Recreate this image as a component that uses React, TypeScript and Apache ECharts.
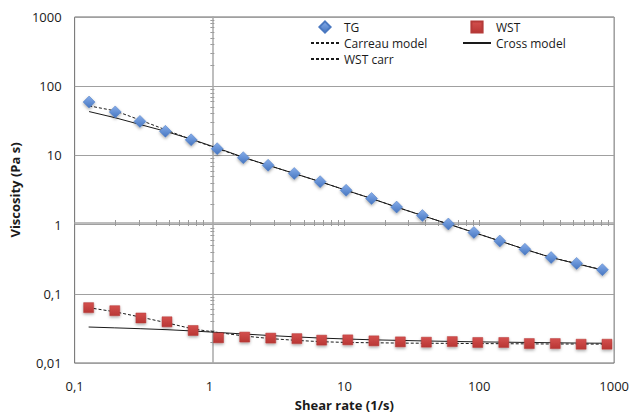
import { useEffect, useRef } from 'react';
import * as echarts from 'echarts';

// Measured flow curves: shear rate (1/s) and viscosity (Pa s)
const tgShearRate = [0.128, 0.2, 0.305, 0.471, 0.731, 1.14, 1.78, 2.72, 4.25, 6.61, 10.3, 15.9, 24.4, 37.9, 59, 91.2, 142, 218, 341, 527, 818];
const tgViscosity = [59, 42.5, 31, 22.3, 16.8, 12.5, 9.27, 7.2, 5.48, 4.17, 3.13, 2.38, 1.79, 1.35, 1.02, 0.769, 0.579, 0.44, 0.334, 0.275, 0.223];
const tgCarreau = [52, 44, 32.5, 23.5, 17, 12.6, 9.3, 7.2, 5.48, 4.17, 3.13, 2.38, 1.79, 1.35, 1.02, 0.77, 0.58, 0.44, 0.335, 0.274, 0.222];
const tgCross = [43, 35, 28, 22.3, 17.2, 12.8, 9.4, 7.2, 5.48, 4.17, 3.13, 2.38, 1.79, 1.35, 1.02, 0.77, 0.58, 0.44, 0.335, 0.272, 0.22];

const wstShearRate = [0.127, 0.1985, 0.31, 0.484, 0.756, 1.167, 1.824, 2.845, 4.446, 6.786, 10.6, 16.56, 26, 40.55, 63.1, 97.5, 152, 235, 366, 569, 885];
const wstViscosity = [0.0631, 0.057, 0.0447, 0.0394, 0.0295, 0.0231, 0.0237, 0.0229, 0.0225, 0.0214, 0.0216, 0.0209, 0.0202, 0.02, 0.0204, 0.0198, 0.0198, 0.0191, 0.0191, 0.0187, 0.0187];
const wstCarreau = [0.063, 0.055, 0.046, 0.038, 0.031, 0.0275, 0.0245, 0.0225, 0.0212, 0.0203, 0.0198, 0.0196, 0.0194, 0.0193, 0.0192, 0.0191, 0.019, 0.0189, 0.0188, 0.0188, 0.0187];
const wstCross = [0.0331, 0.0322, 0.0313, 0.0303, 0.029, 0.0276, 0.0262, 0.0249, 0.0238, 0.0229, 0.0222, 0.0216, 0.0212, 0.0208, 0.0205, 0.0202, 0.02, 0.0198, 0.0196, 0.0194, 0.0193];

// Minor tick positions on the axes that cross at 1
const xCrossTicks = [0.2, 0.3, 0.4, 0.5, 0.6, 0.7, 0.8, 0.9, 2, 3, 4, 5, 6, 7, 8, 9, 10, 20, 30, 40, 50, 60, 70, 80, 90, 100, 200, 300, 400, 500, 600, 700, 800, 900];
const yCrossTicks = [0.02, 0.03, 0.04, 0.05, 0.06, 0.07, 0.08, 0.09, 0.2, 0.3, 0.4, 0.5, 0.6, 0.7, 0.8, 0.9, 2, 3, 4, 5, 6, 7, 8, 9, 20, 30, 40, 50, 60, 70, 80, 90, 200, 300, 400, 500, 600, 700, 800, 900];

const FONT = '"Open Sans", "Noto Sans", sans-serif';

const pairs = (xs: number[], ys: number[]) => xs.map((x, i) => [x, ys[i]]);
const commaNumber = (v: number) => String(+v.toPrecision(6)).replace('.', ',');

export default function App() {
  const ref = useRef<HTMLDivElement>(null);

  useEffect(() => {
    if (!ref.current) return;
    const chart = echarts.init(ref.current, undefined, { renderer: 'svg' });

    const crossAxisLine = { show: true, lineStyle: { color: '#a8a8a8', width: 1.5 } };
    const tickStyle = { color: '#9a9a9a', width: 1 };
    const legendBase = {
      orient: 'vertical',
      top: 20,
      padding: 0,
      itemWidth: 28,
      itemHeight: 14,
      itemGap: 2,
      selectedMode: false,
      textStyle: { fontSize: 12, color: '#1a1a1a', fontFamily: FONT, lineHeight: 14 },
    };
    const modelLine = (dashed: boolean) => ({
      type: 'line',
      symbol: 'none',
      z: 2,
      itemStyle: { color: '#1a1a1a', opacity: 0 },
      lineStyle: { color: '#1a1a1a', width: 1, type: dashed ? [3, 2] : 'solid' },
    });
    const markerStyle = (top: string, bottom: string, border: string) => ({
      color: new echarts.graphic.LinearGradient(0, 0, 0, 1, [
        { offset: 0, color: top },
        { offset: 1, color: bottom },
      ]),
      borderColor: border,
      borderWidth: 0.5,
      shadowBlur: 3,
      shadowOffsetY: 1.5,
      shadowColor: 'rgba(0,0,0,0.35)',
    });

    chart.setOption({
      animation: false,
      backgroundColor: '#ffffff',
      textStyle: { fontFamily: FONT },
      grid: {
        left: 65,
        top: 17,
        width: 551,
        height: 350,
        show: true,
        borderColor: '#6b6b6b',
        borderWidth: 1,
        containLabel: false,
      },
      legend: [
        { ...legendBase, left: 310, data: ['TG', 'Carreau model', 'WST carr'] },
        { ...legendBase, left: 462, data: ['WST', 'Cross model'] },
      ],
      xAxis: [
        {
          type: 'log',
          logBase: 10,
          min: 0.1,
          max: 1000,
          name: 'Shear rate (1/s)',
          nameLocation: 'middle',
          nameGap: 35,
          nameTextStyle: { fontSize: 13, fontWeight: 'bold', color: '#1a1a1a', fontFamily: FONT },
          axisLine: { show: false },
          axisTick: { show: false },
          splitLine: { show: false },
          axisLabel: { fontSize: 13, color: '#1a1a1a', margin: 16, formatter: commaNumber, showMinLabel: true, showMaxLabel: true },
        },
        {
          type: 'log',
          logBase: 10,
          min: 0.1,
          max: 1000,
          position: 'bottom',
          offset: -140,
          axisLine: crossAxisLine,
          axisTick: { show: true, inside: false, length: 3, lineStyle: tickStyle, customValues: xCrossTicks },
          axisLabel: { show: false },
          splitLine: { show: false },
        },
        {
          type: 'log',
          logBase: 10,
          min: 0.1,
          max: 1000,
          position: 'bottom',
          offset: -140,
          axisLine: { show: false },
          axisTick: { show: true, inside: true, length: 3, lineStyle: tickStyle, customValues: xCrossTicks },
          axisLabel: { show: false },
          splitLine: { show: false },
        },
      ],
      yAxis: [
        {
          type: 'log',
          logBase: 10,
          min: 0.01,
          max: 1000,
          name: 'Viscosity (Pa s)',
          nameLocation: 'middle',
          nameGap: 41,
          nameTextStyle: { fontSize: 13, fontWeight: 'bold', color: '#1a1a1a', fontFamily: FONT },
          axisLine: { show: false },
          axisTick: { show: false },
          splitLine: { show: true, lineStyle: { color: '#a0a0a0', width: 1 } },
          axisLabel: { fontSize: 13, color: '#1a1a1a', margin: 13, formatter: commaNumber, showMinLabel: true, showMaxLabel: true },
        },
        {
          type: 'log',
          logBase: 10,
          min: 0.01,
          max: 1000,
          position: 'left',
          offset: -137.75,
          axisLine: crossAxisLine,
          axisTick: { show: true, inside: false, length: 2, lineStyle: tickStyle, customValues: yCrossTicks },
          axisLabel: { show: false },
          splitLine: { show: false },
        },
        {
          type: 'log',
          logBase: 10,
          min: 0.01,
          max: 1000,
          position: 'left',
          offset: -137.75,
          axisLine: { show: false },
          axisTick: { show: true, inside: true, length: 2, lineStyle: tickStyle, customValues: yCrossTicks },
          axisLabel: { show: false },
          splitLine: { show: false },
        },
      ],
      series: [
        { name: 'Carreau model', data: pairs(tgShearRate, tgCarreau), ...modelLine(true) },
        { name: 'Cross model', data: pairs(tgShearRate, tgCross), ...modelLine(false) },
        { name: 'WST carr', data: pairs(wstShearRate, wstCarreau), ...modelLine(true) },
        { name: 'Cross model', data: pairs(wstShearRate, wstCross), ...modelLine(false) },
        {
          name: 'TG',
          type: 'line',
          data: pairs(tgShearRate, tgViscosity),
          symbol: 'diamond',
          symbolSize: 12,
          showSymbol: true,
          z: 5,
          lineStyle: { width: 0, opacity: 0 },
          itemStyle: markerStyle('#86adea', '#4575c0', '#4a78c0'),
        },
        {
          name: 'WST',
          type: 'line',
          data: pairs(wstShearRate, wstViscosity),
          symbol: 'rect',
          symbolSize: 10,
          showSymbol: true,
          z: 5,
          lineStyle: { width: 0, opacity: 0 },
          itemStyle: markerStyle('#d4504e', '#b83634', '#b53a38'),
        },
      ],
    });

    return () => chart.dispose();
  }, []);

  return <div ref={ref} style={{ width: 632, height: 416, position: 'fixed', left: 0, top: 0 }} />;
}
